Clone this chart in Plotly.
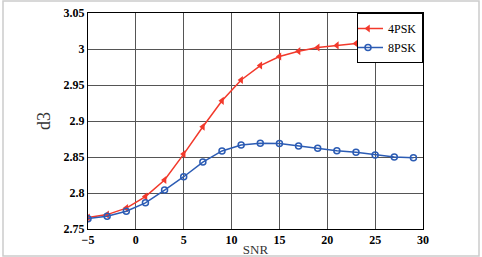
import plotly.graph_objects as go

snr = [-5, -3, -1, 1, 3, 5, 7, 9, 11, 13, 15, 17, 19, 21, 23, 25, 27, 29]
psk4 = [2.766, 2.770, 2.779, 2.795, 2.818, 2.854, 2.892, 2.928, 2.957, 2.977,
        2.9895, 2.997, 3.002, 3.005, 3.0077, 3.0086, 3.009, 3.0095]
psk8 = [2.7644, 2.7677, 2.7747, 2.7863, 2.804, 2.8226, 2.843, 2.8584, 2.8667, 2.869,
        2.8686, 2.8653, 2.862, 2.8588, 2.8565, 2.8528, 2.850, 2.849]
xticks = [-5, 0, 5, 10, 15, 20, 25, 30]
yticks = [2.75, 2.8, 2.85, 2.9, 2.95, 3.0, 3.05]
ytext = ["2.75", "2.8", "2.85", "2.9", "2.95", "3", "3.05"]

font = "Liberation Serif"
fig = go.Figure()
fig.add_trace(go.Scatter(x=snr, y=psk4, name="4PSK", mode="lines+markers",
                         line=dict(color="#f2392b", width=1.5),
                         marker=dict(symbol="triangle-left", size=7, color="#f2392b")))
fig.add_trace(go.Scatter(x=snr, y=psk8, name="8PSK", mode="lines+markers",
                         line=dict(color="#2c5cb4", width=1.5),
                         marker=dict(symbol="circle-open", size=6, color="#2c5cb4",
                                     line=dict(width=1.5))))

tf = dict(family=font, size=12, color="black", weight="bold")
axcommon = dict(showline=True, linecolor="black", linewidth=1, mirror=True,
                showgrid=True, gridcolor="#555555", gridwidth=0.8, zeroline=False,
                ticks="", tickfont=tf, automargin=False)
fig.update_xaxes(range=[-5, 30], tickvals=xticks, ticklabelstandoff=0, **axcommon,
                 title=dict(text="SNR", font=dict(family=font, size=13, color="#333"), standoff=0))
fig.update_yaxes(range=[2.75, 3.05], tickvals=yticks, ticktext=ytext, **axcommon,
                 title=dict(text="d3", font=dict(family=font, size=18, color="#333"), standoff=8))

fig.update_layout(
    width=482, height=257,
    margin=dict(l=88, r=59, t=13, b=28, autoexpand=False),
    plot_bgcolor="white", paper_bgcolor="white",
    showlegend=True,
    legend=dict(x=1, y=1, xanchor="right", yanchor="top",
                bgcolor="white", bordercolor="black", borderwidth=1,
                font=dict(family=font, size=12, color="black"),
                itemwidth=30, tracegroupgap=0, indentation=-10),
    shapes=[dict(type="rect", xref="paper", yref="paper",
                 x0=(3 - 88) / 335, x1=(479 - 88) / 335,
                 y0=(229 - 256) / 216, y1=(229 - 1) / 216,
                 line=dict(color="#cccccc", width=1.5), layer="below")],
)
fig.write_html("out.html")
